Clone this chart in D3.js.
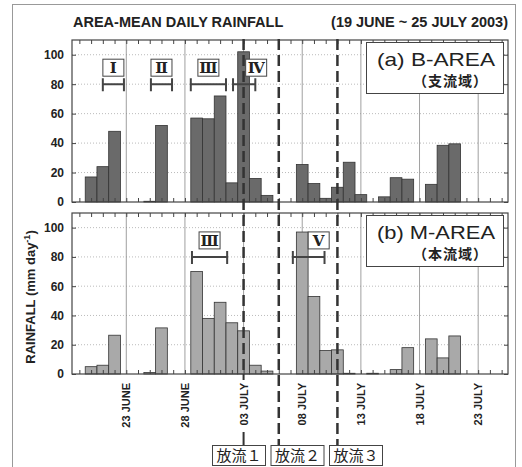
<!DOCTYPE html>
<html>
<head>
<meta charset="utf-8">
<script src="https://cdn.jsdelivr.net/npm/d3@7"></script>
<style>
  body { margin: 0; background: #fff; }
  text { font-family: "Liberation Sans", Arial, sans-serif; fill: #222; }
  .jp { font-family: "Noto Sans CJK JP", sans-serif; }
  .roman { font-family: "DejaVu Serif", serif; font-weight: bold; }
</style>
</head>
<body>
<svg id="chart" width="522" height="467"></svg>
<script>
// daily values, 19 June .. 25 July 2003 (37 days), mm/day
var bAreaRain = [0, 17, 24, 48, 0, 0, 0.5, 52, 0, 0,
                 57, 56.5, 72, 13, 102, 16, 4.5, 0, 0, 25.5,
                 12.5, 2.5, 10, 27, 5, 0, 3.5, 16.5, 15.5, 0,
                 12, 38.5, 39.5, 0, 0, 0, 0];
var mAreaRain = [0, 5, 6, 26.5, 0, 0, 1, 31.5, 0, 0,
                 70, 38, 49, 35, 29.5, 6, 2, 0, 0, 97,
                 53, 16, 16.5, 0.5, 0, 0.5, 0, 3, 18, 0,
                 24, 11, 26, 0, 0, 0, 0];

var tickDays = [4, 9, 14, 19, 24, 29, 34];
var tickLabels = ["23 JUNE", "28 JUNE", "03 JULY", "08 JULY", "13 JULY", "18 JULY", "23 JULY"];
var yTicks = [0, 20, 40, 60, 80, 100];

// dam release days and their labels
var releaseDays = [14, 17, 22];
var releaseLabels = ["放流１", "放流２", "放流３"];

// rain periods (start/end in days from 19 June 00h)
var periodsA = [{n: "Ⅰ", from: 2.5, to: 4.3}, {n: "Ⅱ", from: 6.6, to: 8.4},
                {n: "Ⅲ", from: 10.0, to: 13.0}, {n: "Ⅳ", from: 13.6, to: 15.5}];
var periodsB = [{n: "Ⅲ", from: 10.1, to: 13.1}, {n: "Ⅴ", from: 18.7, to: 21.4}];

var svg = d3.select("#chart");
var nDays = bAreaRain.length;
var x = d3.scaleLinear().domain([0, nDays]).range([73.5, 507.5]);
var left = 72, right = 508;

// outer frame
svg.append("rect").attr("x", 12.5).attr("y", 4.5).attr("width", 503).attr("height", 475)
  .attr("fill", "none").attr("stroke", "#999").attr("stroke-width", 1);

svg.append("text").attr("x", 73).attr("y", 27).style("font-size", "14.5px").style("font-weight", "bold")
  .text("AREA-MEAN DAILY RAINFALL");
svg.append("text").attr("x", 508).attr("y", 27).attr("text-anchor", "end")
  .style("font-size", "14.5px").style("font-weight", "bold").text("(19 JUNE ~ 25 JULY 2003)");

var panels = [
  {data: bAreaRain, top: 40, bottom: 202, fill: "#6a6a6a", name: "(a) B-AREA", sub: "（支流域）", periods: periodsA},
  {data: mAreaRain, top: 213, bottom: 374, fill: "#a9a9a9", name: "(b) M-AREA", sub: "（本流域）", periods: periodsB}
];

panels.forEach(function(p) {
  var y = d3.scaleLinear().domain([0, 110]).range([p.bottom, p.top]);
  var g = svg.append("g");

  g.append("rect").attr("x", left).attr("y", p.top).attr("width", right - left).attr("height", p.bottom - p.top)
    .attr("fill", "#fff");

  // grid
  g.selectAll(".hgrid").data(yTicks.slice(1)).enter().append("line")
    .attr("x1", left).attr("x2", right).attr("y1", function(d) { return y(d); }).attr("y2", function(d) { return y(d); })
    .attr("stroke", "#aaa").attr("stroke-width", 0.8).attr("stroke-dasharray", "1,2");
  g.selectAll(".vgrid").data(tickDays).enter().append("line")
    .attr("x1", function(d) { return x(d + 0.5); }).attr("x2", function(d) { return x(d + 0.5); })
    .attr("y1", p.top).attr("y2", p.bottom).attr("stroke", "#888").attr("stroke-width", 0.8);

  // bars
  g.selectAll(".bar").data(p.data.map(function(v, i) { return {i: i, v: v}; }).filter(function(d) { return d.v > 0; }))
    .enter().append("rect")
    .attr("x", function(d) { return x(d.i); })
    .attr("width", function(d) { return x(d.i + 1) - x(d.i); })
    .attr("y", function(d) { return y(d.v); })
    .attr("height", function(d) { return y(0) - y(d.v); })
    .attr("fill", p.fill).attr("stroke", "#333").attr("stroke-width", 0.8);

  // axes, ticks pointing inward
  var dayCenters = d3.range(nDays).map(function(i) { return i + 0.5; });
  g.append("g").attr("transform", "translate(" + left + ",0)")
    .call(d3.axisLeft(y).tickValues(yTicks).tickSize(-4).tickPadding(8))
    .call(function(a) {
      a.select(".domain").remove();
      a.selectAll("text").style("font-size", "12px").style("font-weight", "bold").attr("fill", "#222")
        .style("font-family", "'Liberation Sans', Arial, sans-serif");
      a.selectAll("line").attr("stroke", "#444");
    });
  g.append("g").attr("transform", "translate(" + right + ",0)")
    .call(d3.axisRight(y).tickValues(yTicks).tickSize(-4).tickFormat(""))
    .call(function(a) { a.select(".domain").remove(); a.selectAll("line").attr("stroke", "#444"); });
  g.append("g").attr("transform", "translate(0," + p.bottom + ")")
    .call(d3.axisBottom(x).tickValues(dayCenters).tickSize(-4).tickFormat(""))
    .call(function(a) { a.select(".domain").remove(); a.selectAll("line").attr("stroke", "#444"); });
  g.append("g").attr("transform", "translate(0," + p.top + ")")
    .call(d3.axisTop(x).tickValues(dayCenters).tickSize(-4).tickFormat(""))
    .call(function(a) { a.select(".domain").remove(); a.selectAll("line").attr("stroke", "#444"); });

  g.append("rect").attr("x", left).attr("y", p.top).attr("width", right - left).attr("height", p.bottom - p.top)
    .attr("fill", "none").attr("stroke", "#444").attr("stroke-width", 1.2);

  // area name box
  g.append("rect").attr("x", 366.5).attr("y", p.top + 2.5).attr("width", 137).attr("height", 51)
    .attr("fill", "#fff").attr("stroke", "#444").attr("stroke-width", 1);
  g.append("text").attr("x", 377).attr("y", p.top + 26).style("font-size", "19px")
    .attr("textLength", 118).attr("lengthAdjust", "spacingAndGlyphs").text(p.name);
  g.append("text").attr("class", "jp").attr("x", 413).attr("y", p.top + 46)
    .style("font-size", "14px").style("font-weight", "bold")
    .attr("textLength", 74).attr("lengthAdjust", "spacing").text(p.sub);

  // rain period brackets
  var yb = y(80);
  p.periods.forEach(function(d) {
    var x1 = x(d.from), x2 = x(d.to);
    g.append("path").attr("d", "M" + x1 + "," + yb + "H" + x2 + "M" + x1 + "," + (yb - 6) + "V" + (yb + 7) +
        "M" + x2 + "," + (yb - 6) + "V" + (yb + 7))
      .attr("stroke", "#444").attr("stroke-width", 2).attr("fill", "none");
    var cx = (x1 + x2) / 2;
    if (d.n == "Ⅳ") cx += 12;
    if (d.n == "Ⅴ") cx += 10;
    g.append("rect").attr("x", cx - 10.5).attr("y", yb - 25).attr("width", 21).attr("height", 17)
      .attr("fill", "#fff").attr("stroke", "#444").attr("stroke-width", 1);
    g.append("text").attr("class", "roman").attr("x", cx).attr("y", yb - 11).attr("text-anchor", "middle")
      .style("font-size", "15px").text(d.n);
  });
});

// date labels under panel b
svg.selectAll(".xlab").data(tickDays).enter().append("text")
  .attr("transform", function(d) { return "translate(" + (x(d + 0.5) + 4) + ",383) rotate(-90)"; })
  .attr("text-anchor", "end").style("font-size", "11px").style("font-weight", "bold")
  .text(function(d, i) { return tickLabels[i]; });

// release lines
releaseDays.forEach(function(d, i) {
  var xr = x(d + 0.5);
  if (i == 0) {
    svg.append("line").attr("x1", xr).attr("x2", xr).attr("y1", 39).attr("y2", 374)
      .attr("stroke", "#333").attr("stroke-width", 2.5).attr("stroke-dasharray", "11,5");
    svg.append("path").attr("d", "M" + xr + ",374V380M" + xr + ",432V445")
      .attr("stroke", "#333").attr("stroke-width", 2);
  } else {
    svg.append("line").attr("x1", xr).attr("x2", xr).attr("y1", 39).attr("y2", 445)
      .attr("stroke", "#333").attr("stroke-width", 2.5).attr("stroke-dasharray", "11,5");
  }
  var bx = 212 + i * 58.5;
  svg.append("rect").attr("x", bx + 0.5).attr("y", 445.5).attr("width", 53).attr("height", 20)
    .attr("fill", "#fff").attr("stroke", "#444").attr("stroke-width", 1);
  svg.append("text").attr("class", "jp").attr("x", bx + 27).attr("y", 461).attr("text-anchor", "middle")
    .style("font-size", "15px").text(releaseLabels[i]);
});

// y axis title
var yt = svg.append("text").attr("transform", "translate(35,297) rotate(-90)").attr("text-anchor", "middle")
  .style("font-size", "13px").style("font-weight", "bold");
yt.append("tspan").text("RAINFALL (mm day");
yt.append("tspan").attr("dy", -5).style("font-size", "9px").text("-1");
yt.append("tspan").attr("dy", 5).text(")");
</script>
</body>
</html>
